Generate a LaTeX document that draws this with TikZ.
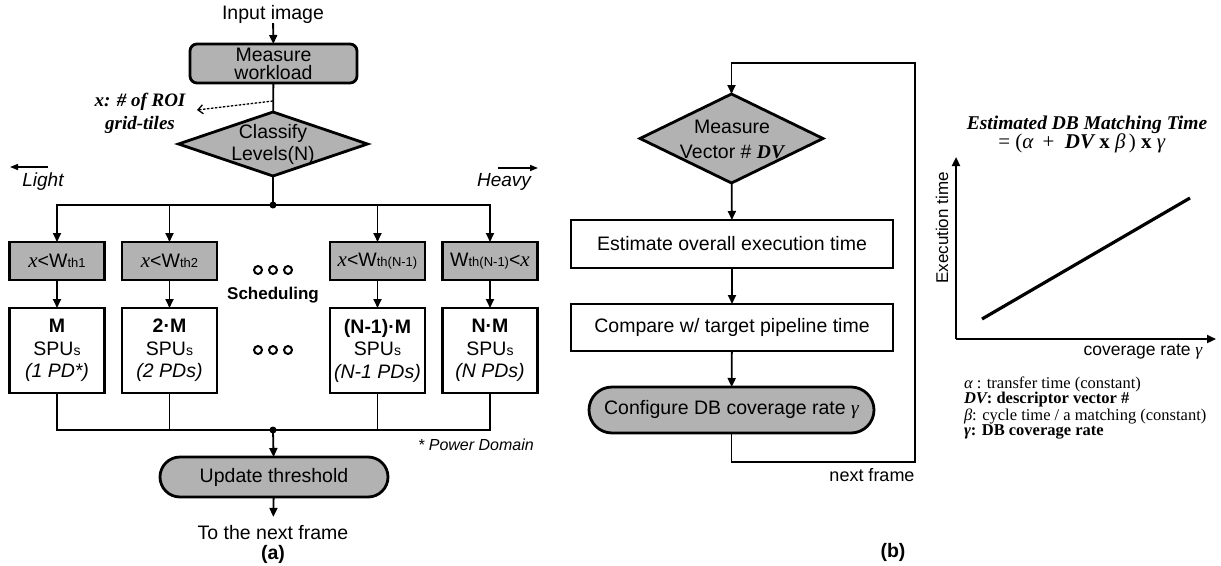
\documentclass[tikz,border=0pt]{standalone}
\usepackage{fontspec}
\setmainfont{Liberation Sans}
\newfontfamily\tms{Liberation Serif}
\usetikzlibrary{shapes.geometric,arrows.meta}
\definecolor{boxgray}{RGB}{178,178,178}
\newcommand{\fs}[1]{\fontsize{#1}{#1}\selectfont}
\begin{document}
\begin{tikzpicture}[x=1pt,y=-1pt,
  every node/.style={font=\fs{19.5}, inner sep=0pt, outer sep=0pt},
  ln/.style={line width=1.8pt},
  arr/.style={ln,-{Triangle[length=9pt,width=8pt]}},
  thick box/.style={draw, line width=2.8pt},
  gbox/.style={thick box, fill=boxgray, minimum width=95pt, minimum height=38pt},
  wbox/.style={thick box, fill=white, minimum width=95pt, minimum height=85pt, align=center, font=\fontsize{19.5}{22.5}\selectfont},
  pbox/.style={thick box, fill=white, minimum width=322pt, minimum height=48pt},
  stadium/.style={thick box, fill=boxgray, rounded corners=20pt},
  dia/.style={thick box, fill=boxgray, diamond},
  lbl/.style={font=\fs{19.5}},
  leg/.style={anchor=west, font=\tms\fs{16.5}},
  dot/.style={fill=black},
  ell/.style={line width=2pt}
]
\useasboundingbox (0,0) rectangle (1221,565);

% ---------------- (a) ----------------
\node[lbl] (in) at (273,14) {Input image};
\node[thick box, fill=boxgray, rounded corners=7pt, minimum width=167pt, minimum height=39pt,
      align=center, font=\fontsize{19.5}{18}\selectfont] (mw) at (273.5,63.5) {Measure\\workload};
\node[dia, minimum width=189pt, minimum height=64pt] (cls) at (273,144) {};
\node[align=center, font=\fontsize{19.5}{22}\selectfont] (clst) at (273,144.5) {Classify\\Levels(N)};
\draw[arr] (in) -- (mw);
\draw[ln] (mw) -- (cls);
\coordinate (tap) at (273,101);
\coordinate (tapend) at (197,110);
\draw[line width=1.3pt, dash pattern=on 2.5pt off 1.5pt, -{Straight Barb[length=5pt,width=9pt]}] (tap) -- (tapend);
\node[align=center, font=\tms\bfseries\itshape\fontsize{19}{23}\selectfont] (roi) at (140,113.5) {x: \# of ROI\\grid-tiles};

\coordinate (j1) at (273,205);
\draw[ln] (cls) -- (j1);

\node[gbox] (g1) at (57,261) {{\tms\itshape\fs{21}x}<W{\fs{13}th1}};
\node[gbox] (g2) at (169.5,261) {{\tms\itshape\fs{21}x}<W{\fs{13}th2}};
\node[gbox] (g3) at (377.5,261) {{\tms\itshape\fs{21}x}<W{\fs{13}th(N-1)}};
\node[gbox] (g4) at (490,261) {W{\fs{13}th(N-1)}<{\tms\itshape\fs{21}x}};

\draw[arr] (j1) -| (g1);
\draw[arr] (j1) -| (g4);
\draw[arr] (j1 -| g2) -- (g2);
\draw[arr] (j1 -| g3) -- (g3);
\fill[dot] (j1) circle (3.5);

\node[wbox] (w1) at (57,350.5) {{\bfseries M}\\SPU{\fs{14}s}\\{\itshape (1 PD*)}};
\node[wbox] (w2) at (169.5,350.5) {{\bfseries 2·M}\\SPU{\fs{14}s}\\{\itshape (2 PDs)}};
\node[wbox] (w3) at (377.5,350.5) {{\bfseries (N-1)·M}\\SPU{\fs{14}s}\\{\itshape (N-1 PDs)}};
\node[wbox] (w4) at (490,350.5) {{\bfseries N·M}\\SPU{\fs{14}s}\\{\itshape (N PDs)}};
\foreach \i in {1,2,3,4} {\draw[arr] (g\i) -- (w\i);}

\draw[ell] (258,270) circle (4) (273,270) circle (4) (288,270) circle (4);
\draw[ell] (258,350) circle (4) (273,350) circle (4) (288,350) circle (4);
\node[font=\bfseries\fs{17}] (sch) at (273,295) {Scheduling};

\coordinate (j2) at (273,430);
\draw[ln] (w1) |- (j2);
\draw[ln] (w4) |- (j2);
\draw[ln] (w2) -- (w2 |- j2);
\draw[ln] (w3) -- (w3 |- j2);
\fill[dot] (j2) circle (3.5);

\node[stadium, minimum width=228pt, minimum height=40pt] (ut) at (274,477) {Update threshold};
\draw[arr] (j2) -- (ut);
\node[lbl, inner ysep=9pt] (nf) at (273,533) {To the next frame};
\draw[arr] (ut) -- (nf);
\node[font=\bfseries\fs{19.5}] (capa) at (273,554) {(a)};

\node[font=\itshape\fs{19}] (light) at (43,182) {Light};
\coordinate (la1) at (48,167);
\coordinate (la2) at (10,167);
\draw[line width=1.5pt, -{Triangle[length=8pt,width=6pt]}] (la1) -- (la2);
\node[font=\itshape\fs{19}] (heavy) at (504,182) {Heavy};
\coordinate (ha1) at (498,168);
\coordinate (ha2) at (538,168);
\draw[line width=1.5pt, -{Triangle[length=8pt,width=6pt]}] (ha1) -- (ha2);
\node[font=\itshape\fs{16}] (pd) at (476,445) {* Power Domain};

% ---------------- (b) ----------------
\node[dia, minimum width=183pt, minimum height=89pt] (meas) at (731.5,138.5) {};
\node[align=center, font=\fontsize{19.5}{25}\selectfont] (meast) at (732,139.5) {Measure\\Vector \# {\tms\bfseries\itshape DV}};
\node[pbox] (est) at (732,244) {Estimate overall execution time};
\node[pbox, minimum height=47pt] (cmp) at (732,327.5) {Compare w/ target pipeline time};
\node[stadium, minimum width=285pt, minimum height=46pt, rounded corners=23pt] (cfg) at (731.5,410) {Configure DB coverage rate {\tms\itshape γ}};
\draw[arr] (meas) -- (est);
\draw[arr] (est) -- (cmp);
\draw[arr] (cmp) -- (cfg);
\coordinate (lp1) at (915,462);
\coordinate (lp2) at (915,63);
\draw[arr] (cfg) |- (lp1) -- (lp2) -| (meas);
\node[font=\fs{18}] (nxt) at (872,475) {next frame};
\node[font=\bfseries\fs{19.5}] (capb) at (893,552) {(b)};

% ---------------- graph ----------------
\node[font=\tms\bfseries\itshape\fs{19.5}] (title) at (1087,125) {Estimated DB Matching Time};
\node[font=\tms\fs{21}] (form) at (1082,143) {= (\textit{α}\, + \ {\bfseries\itshape DV} {\bfseries x} \textit{β}\,) {\bfseries x} \textit{γ}};
\coordinate (org) at (956,339);
\coordinate (ytop) at (956,157);
\coordinate (xend) at (1216,339);
\draw[line width=2.2pt, -{Triangle[length=9pt,width=8pt]}] (org) -- (ytop);
\draw[line width=2.2pt, -{Triangle[length=9pt,width=8pt]}] (org) -- (xend);
\coordinate (gl1) at (982,319);
\coordinate (gl2) at (1190,198);
\draw[line width=3.2pt] (gl1) -- (gl2);
\node[rotate=90, font=\fs{17}] (ylab) at (942,228) {Execution time};
\node[font=\fs{17.5}] (xlab) at (1143,352) {coverage rate {\tms\itshape γ}};

\node[leg] (l1) at (964,384) {{\itshape α} : transfer time (constant)};
\node[leg] (l2) at (964,400) {{\bfseries\itshape DV}{\bfseries : descriptor vector \#}};
\node[leg] (l3) at (964,416) {{\itshape β}: cycle time / a matching (constant)};
\node[leg] (l4) at (964,432) {{\bfseries\itshape γ}{\bfseries : DB coverage rate}};
\end{tikzpicture}
\end{document}
